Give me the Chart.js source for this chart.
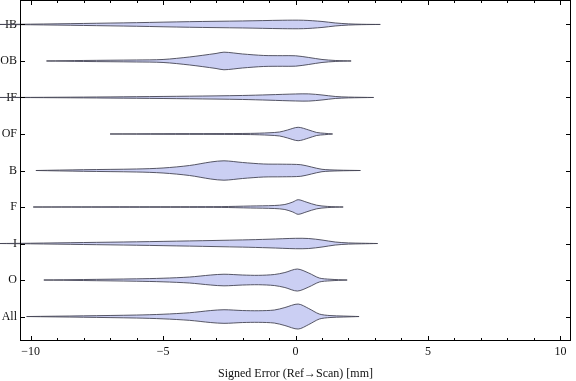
<!DOCTYPE html>
<html>
<head>
<meta charset="utf-8">
<script src="https://cdn.jsdelivr.net/npm/chart.js@4.4.0/dist/chart.umd.min.js"></script>
<style>
  html, body { margin: 0; padding: 0; background: #fff; }
  #wrap { width: 576px; height: 381px; }
</style>
</head>
<body>
<div id="wrap"><canvas id="myChart"></canvas></div>
<script>
// categories, bottom to top
const categories = ['All', 'O', 'I', 'F', 'B', 'OF', 'IF', 'OB', 'IB'];

// error values (mm) and estimated density (half width) for each violin
const xAll = [-10.15, -8, -6, -5, -4, -3.2, -2.7, -2, -1.4, -0.8, -0.4, 0.1, 0.5, 0.9, 1.3, 1.8, 2.4];
const dAll = [0, 0.7, 1.5, 2.3, 3.8, 6, 6.8, 6, 5.8, 6.5, 9, 12.5, 8, 2.5, 1, 0.5, 0];
const xO = [-9.5, -8, -6, -5, -4, -3.2, -2.7, -2, -1.4, -0.8, -0.4, 0.07, 0.5, 0.9, 1.3, 1.95];
const dO = [0, 0.5, 1.2, 1.8, 3, 5, 5.8, 5, 4.7, 5.5, 7.5, 11, 7, 2, 0.8, 0];
const xI = [-11.2, -10, -8, -6, -4, -2, -1, 0, 0.5, 1, 1.5, 2, 2.5, 3.1];
const dI = [0, 0.3, 1, 1.7, 2.6, 3.6, 4.3, 5.2, 5, 3.5, 1.5, 0.6, 0.3, 0];
const xF = [-9.9, -7, -4, -2.8, -1.7, -0.8, -0.4, -0.1, 0.1, 0.4, 0.8, 1.2, 1.8];
const dF = [0, 0.2, 0.3, 0.4, 1, 1.5, 2.5, 5, 7.3, 5, 1.8, 0.6, 0];
const xB = [-9.8, -8, -6, -5, -4, -3.2, -2.7, -2, -1.2, -0.5, 0.2, 0.6, 1, 1.6, 2.45];
const dB = [0, 0.8, 1.5, 2.5, 5, 8.5, 9.7, 8, 6.5, 6.3, 5.8, 3.5, 1.2, 0.4, 0];
const xOF = [-7, -5, -3, -1.7, -1, -0.6, -0.3, 0.1, 0.5, 0.8, 1.1, 1.4];
const dOF = [0, 0.3, 0.4, 0.6, 1.2, 2, 4, 6.7, 4, 1.5, 0.7, 0];
const xIF = [-11.2, -10, -8, -6, -4, -2, -1, 0, 0.5, 1, 1.5, 2, 2.95];
const dIF = [0, 0.1, 0.4, 0.8, 1.3, 2, 2.7, 3.5, 3.6, 2.5, 1, 0.4, 0];
const xOB = [-9.4, -8, -6, -5, -4, -3, -2.7, -2, -1.2, -0.5, 0, 0.5, 1, 1.5, 2.1];
const dOB = [0, 0.5, 1, 1.5, 4, 7.5, 8.8, 7, 5.5, 5.3, 5.2, 3.5, 1.5, 0.5, 0];
const xIB = [-11.2, -10, -8, -6, -4, -2, -0.5, 0.3, 1, 1.5, 2, 2.5, 3.2];
const dIB = [0, 0.3, 1, 1.8, 2.8, 3.5, 4.2, 4.2, 3, 1.5, 0.6, 0.2, 0];

const xTicks = [-10, -5, 0, 5, 10];

const violins = [
  [xAll, dAll], [xO, dO], [xI, dI], [xF, dF], [xB, dB],
  [xOF, dOF], [xIF, dIF], [xOB, dOB], [xIB, dIB]
];

const WIDTH_SCALE = 1 / 36.5;
const FONT = 'Liberation Serif';

function outline(xs, ds, pos) {
  const up = xs.map((x, i) => ({ x: x, y: pos + ds[i] * WIDTH_SCALE }));
  const lo = xs.map((x, i) => ({ x: x, y: pos - ds[i] * WIDTH_SCALE })).reverse();
  return up.concat(lo);
}

const datasets = violins.map((v, i) => ({
  label: categories[i],
  data: outline(v[0], v[1], i + 1),
  showLine: true,
  fill: 'shape',
  backgroundColor: 'rgb(203,207,243)',
  borderColor: 'rgba(70,70,85,0.9)',
  borderWidth: 1,
  pointRadius: 0,
  tension: 0.3,
  clip: false
}));

// inward tick marks and frame
const frameTicks = {
  id: 'frameTicks',
  afterDraw(chart) {
    const c = chart.ctx, a = chart.chartArea;
    const xs = chart.scales.x, ys = chart.scales.y;
    c.save();
    c.strokeStyle = '#000';
    c.lineWidth = 1;
    c.strokeRect(a.left + 0.5, a.top + 0.5, a.right - a.left - 1, a.bottom - a.top - 1);
    c.beginPath();
    for (let v = Math.ceil(xs.min); v <= Math.floor(xs.max); v++) {
      const px = Math.round(xs.getPixelForValue(v)) + 0.5;
      const len = v % 5 === 0 ? 5 : 3;
      c.moveTo(px, a.bottom); c.lineTo(px, a.bottom - len);
      c.moveTo(px, a.top); c.lineTo(px, a.top + len);
    }
    categories.forEach((cat, i) => {
      const py = Math.round(ys.getPixelForValue(i + 1)) + 0.5;
      c.moveTo(a.left, py); c.lineTo(a.left + 5, py);
      c.moveTo(a.right, py); c.lineTo(a.right - 5, py);
    });
    c.stroke();
    c.restore();
  }
};

new Chart(document.getElementById('myChart'), {
  type: 'scatter',
  data: { datasets: datasets },
  options: {
    responsive: true,
    maintainAspectRatio: false,
    animation: false,
    layout: { padding: { top: 0, right: 5, left: 0, bottom: 0 } },
    plugins: { legend: { display: false }, tooltip: { enabled: false } },
    scales: {
      x: {
        type: 'linear',
        min: -10.4,
        max: 10.4,
        grid: { display: false, drawTicks: false },
        border: { display: false },
        afterBuildTicks: s => { s.ticks = xTicks.map(v => ({ value: v })); },
        afterFit: s => { s.height = 40; s.paddingLeft = 0; s.paddingRight = 0; },
        ticks: {
          color: '#111',
          padding: 4,
          font: { family: FONT, size: 12 },
          callback: v => v < 0 ? '\u2212' + Math.abs(v) : String(v)
        },
        title: {
          display: true,
          text: 'Signed Error (Ref\u2192Scan) [mm]',
          color: '#111',
          font: { family: FONT, size: 12 },
          padding: { top: 4, bottom: 0 }
        }
      },
      y: {
        type: 'linear',
        min: 0.33,
        max: 9.67,
        grid: { display: false, drawTicks: false },
        border: { display: false },
        afterBuildTicks: s => { s.ticks = categories.map((c, i) => ({ value: i + 1 })); },
        afterFit: s => { s.width = 20; s.paddingTop = 0; s.paddingBottom = 0; },
        ticks: {
          color: '#111',
          padding: 3,
          font: { family: FONT, size: 12 },
          callback: v => categories[Math.round(v) - 1]
        }
      }
    }
  },
  plugins: [frameTicks]
});
</script>
</body>
</html>
